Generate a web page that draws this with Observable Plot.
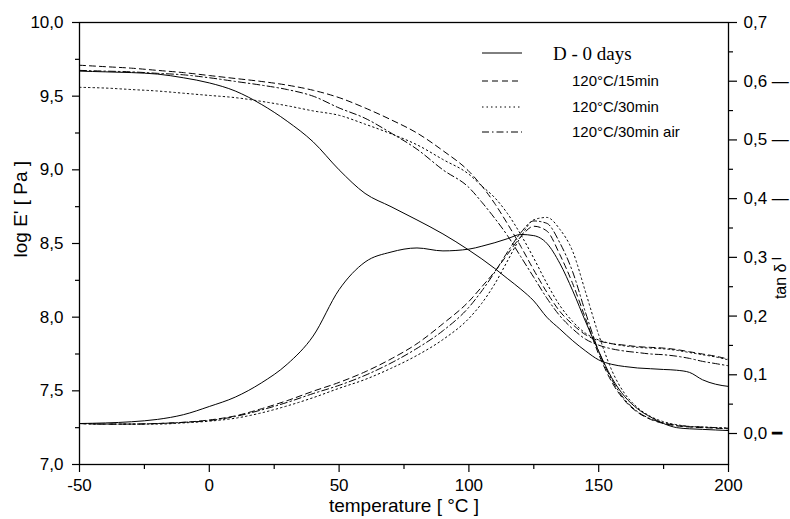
<!DOCTYPE html>
<html>
<head>
<meta charset="utf-8">
<script src="https://cdn.jsdelivr.net/npm/d3@7"></script>
<script src="https://cdn.jsdelivr.net/npm/@observablehq/plot@0.6"></script>
<style>
  html, body { margin: 0; padding: 0; background: white; }
  #wrap { position: relative; width: 790px; height: 519px; overflow: hidden; }
  #legend { position: absolute; left: 0; top: 0; }
</style>
</head>
<body>
<div id="wrap"></div>
<script>
// ---- data ----
const temps = [-50,-40,-30,-20,-10,0,10,20,30,40,50,60,70,80,90,100,105,110,115,120,125,130,135,140,145,150,155,160,165,170,175,180,185,190,195,200];

// log E' [Pa]
const d0E   = [9.67,9.665,9.66,9.65,9.625,9.59,9.535,9.445,9.33,9.19,9.00,8.84,8.75,8.66,8.565,8.455,8.395,8.33,8.26,8.19,8.11,8.00,7.92,7.84,7.77,7.71,7.68,7.665,7.655,7.65,7.645,7.64,7.625,7.575,7.545,7.53];
const m15E  = [9.71,9.70,9.69,9.675,9.66,9.64,9.62,9.60,9.575,9.54,9.49,9.42,9.34,9.25,9.13,8.99,8.89,8.77,8.63,8.48,8.32,8.17,8.04,7.95,7.88,7.84,7.82,7.81,7.80,7.795,7.79,7.78,7.765,7.75,7.735,7.715];
const m30E  = [9.56,9.555,9.545,9.535,9.52,9.505,9.49,9.465,9.435,9.40,9.37,9.31,9.245,9.17,9.07,8.97,8.89,8.81,8.70,8.56,8.40,8.23,8.08,7.97,7.89,7.845,7.82,7.805,7.795,7.79,7.785,7.775,7.76,7.745,7.73,7.71];
const airE  = [9.675,9.67,9.665,9.655,9.645,9.625,9.60,9.575,9.545,9.50,9.42,9.35,9.25,9.14,9.00,8.88,8.78,8.67,8.55,8.41,8.27,8.13,8.01,7.92,7.85,7.81,7.785,7.77,7.76,7.75,7.745,7.735,7.72,7.70,7.685,7.67];

// tan delta
const d0T   = [0.017,0.018,0.020,0.024,0.032,0.046,0.062,0.086,0.118,0.166,0.245,0.292,0.309,0.316,0.311,0.314,0.319,0.325,0.332,0.339,0.337,0.324,0.29,0.243,0.19,0.14,0.095,0.063,0.042,0.028,0.017,0.010,0.008,0.007,0.006,0.005];
const m15T  = [0.017,0.016,0.016,0.017,0.019,0.023,0.030,0.042,0.056,0.072,0.087,0.105,0.127,0.153,0.187,0.225,0.25,0.276,0.306,0.335,0.353,0.345,0.305,0.255,0.195,0.135,0.088,0.056,0.036,0.024,0.017,0.013,0.011,0.010,0.009,0.008];
const m30T  = [0.017,0.016,0.016,0.016,0.018,0.021,0.026,0.035,0.047,0.061,0.077,0.092,0.111,0.133,0.16,0.196,0.222,0.255,0.295,0.335,0.364,0.368,0.348,0.31,0.24,0.168,0.108,0.068,0.044,0.029,0.020,0.015,0.012,0.011,0.010,0.009];
const airT  = [0.017,0.016,0.016,0.017,0.019,0.022,0.029,0.040,0.053,0.068,0.082,0.099,0.12,0.145,0.175,0.215,0.243,0.275,0.31,0.342,0.362,0.358,0.325,0.275,0.205,0.14,0.092,0.058,0.037,0.025,0.018,0.014,0.012,0.011,0.010,0.009];

const seriesNames = ["D - 0 days", "120°C/15min", "120°C/30min", "120°C/30min air"];
const xMajor = [-50, 0, 50, 100, 150, 200];
const xMinor = [-25, 25, 75, 125, 175];
const yMajor = [7.0, 7.5, 8.0, 8.5, 9.0, 9.5, 10.0];
const yMinor = [7.25, 7.75, 8.25, 8.75, 9.25, 9.75];
const tanMajor = [0.0, 0.1, 0.2, 0.3, 0.4, 0.5, 0.6, 0.7];
const tanMinor = [0.05, 0.15, 0.25, 0.35, 0.45, 0.55, 0.65];
const tanDomain = [-0.0528, 0.7];

// ---- styles ----
const dashes = [null, "6,4", "1.5,3", "7,3,1.5,3"];
const eData = [d0E, m15E, m30E, airE];
const tData = [d0T, m15T, m30T, airT];

// map tan δ onto the left (log E') scale
const yDom = [7, 10];
const k = (yDom[1] - yDom[0]) / (tanDomain[1] - tanDomain[0]);
const tanToLeft = t => yDom[0] + (t - tanDomain[0]) * k;
const leftToTan = v => (v - yDom[0]) / k + tanDomain[0];

const fmt1 = v => d3.format(".1f")(v).replace(".", ",");
const artifacts = {"0.0": " ━", "0.3": " ‒", "0.4": " —", "0.5": " —", "0.6": " —"};

const rows = [];
seriesNames.forEach((name, i) => {
  temps.forEach((T, j) => {
    rows.push({series: name, kind: "E", T, v: eData[i][j], idx: i});
    rows.push({series: name, kind: "tan", T, v: tanToLeft(tData[i][j]), idx: i});
  });
});

const lineMarks = [];
seriesNames.forEach((name, i) => {
  ["E", "tan"].forEach(kind => {
    lineMarks.push(Plot.line(rows.filter(r => r.idx === i && r.kind === kind), {
      x: "T", y: "v", curve: "monotone-x",
      stroke: "black", strokeWidth: 1,
      strokeDasharray: dashes[i] || undefined
    }));
  });
});

const font = "'Liberation Sans', Arial, Helvetica, sans-serif";

const chart = Plot.plot({
  width: 790, height: 519,
  marginLeft: 79, marginRight: 62, marginTop: 22, marginBottom: 55,
  x: {domain: [-50, 200]},
  y: {domain: yDom},
  style: {fontFamily: font, fontSize: "17px", color: "black", background: "white", overflow: "visible"},
  marks: [
    ...lineMarks,
    Plot.frame({stroke: "black", strokeWidth: 1.3}),
    Plot.axisX({ticks: xMajor, tickSize: 8, tickPadding: 6, tickFormat: d => String(d), label: null, fontSize: 17, strokeWidth: 1.2}),
    Plot.axisX({ticks: xMinor, tickSize: 5, tickFormat: () => "", label: null, strokeWidth: 1.2}),
    Plot.axisY({ticks: yMajor, tickSize: 7, tickPadding: 9, tickFormat: fmt1, label: null, fontSize: 17, strokeWidth: 1.2}),
    Plot.axisY({ticks: yMinor, tickSize: 4, tickFormat: () => "", label: null, strokeWidth: 1.2}),
    Plot.axisY({anchor: "right", ticks: tanMajor.map(tanToLeft), tickSize: 8, tickPadding: 7,
      tickFormat: v => { const t = leftToTan(v); const key = d3.format(".1f")(t); return fmt1(t) + (artifacts[key] || ""); },
      label: null, fontSize: 17, strokeWidth: 1.2}),
    Plot.axisY({anchor: "right", ticks: tanMinor.map(tanToLeft), tickSize: 4, tickFormat: () => "", label: null, strokeWidth: 1.2}),
    Plot.text(["temperature [ °C ]"], {frameAnchor: "bottom", dy: 41, fontSize: 19, lineAnchor: "middle"}),
    Plot.text(["log E' [ Pa ]"], {frameAnchor: "left", dx: -59, dy: 14, rotate: -90, fontSize: 19, lineAnchor: "middle"}),
    Plot.text(["tan δ"], {frameAnchor: "right", dx: 52, dy: 20, rotate: -90, fontSize: 16, lineAnchor: "middle"})
  ]
});

const wrap = document.getElementById("wrap");
wrap.appendChild(chart);

// ---- legend (overlay) ----
const legendRows = [53, 81, 107, 132];
const leg = d3.create("svg").attr("id", "legend").attr("width", 790).attr("height", 519)
  .style("position", "absolute").style("left", "0px").style("top", "0px");
seriesNames.forEach((name, i) => {
  const y = legendRows[i];
  leg.append("line").attr("x1", 482).attr("x2", 522).attr("y1", y).attr("y2", y)
    .attr("stroke", "black").attr("stroke-width", 1)
    .attr("stroke-dasharray", dashes[i] || null);
  const t = leg.append("text").attr("y", y).attr("dy", "0.35em").attr("fill", "black").text(name);
  if (i === 0) {
    t.attr("x", 553).attr("font-family", "'Liberation Serif', 'Times New Roman', serif").attr("font-size", 19);
  } else {
    t.attr("x", 572).attr("font-family", font).attr("font-size", 15);
  }
});
wrap.appendChild(leg.node());
</script>
</body>
</html>
